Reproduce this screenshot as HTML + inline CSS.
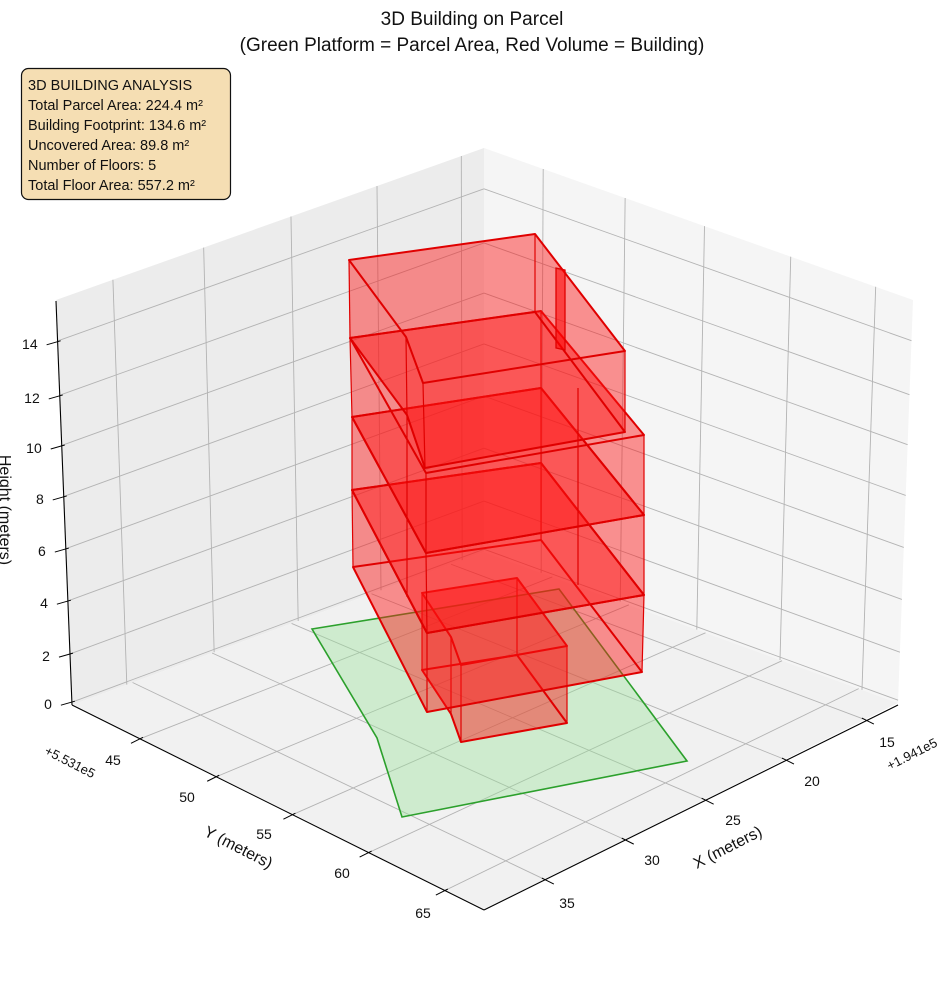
<!DOCTYPE html>
<html><head><meta charset="utf-8"><style>
html,body{margin:0;padding:0;background:#fff;}
svg{display:block;font-family:"Liberation Sans",sans-serif;}
</style></head><body>
<svg id="s" width="944" height="992" viewBox="0 0 944 992" xmlns="http://www.w3.org/2000/svg">
<g id="panes"></g><g id="grid"></g><g id="axes"></g><g id="data"></g>
<text x="472" y="25" text-anchor="middle" font-size="19" fill="#111">3D Building on Parcel</text>
<text x="472" y="51" text-anchor="middle" font-size="19" fill="#111">(Green Platform = Parcel Area, Red Volume = Building)</text>
<rect x="21.5" y="68.5" width="209" height="131" rx="7" fill="#f5deb3" stroke="#111" stroke-width="1.2"/>
<g font-size="14.5" fill="#111">
<text x="28" y="90">3D BUILDING ANALYSIS</text>
<text x="28" y="110">Total Parcel Area: 224.4 m²</text>
<text x="28" y="130">Building Footprint: 134.6 m²</text>
<text x="28" y="150">Uncovered Area: 89.8 m²</text>
<text x="28" y="170">Number of Floors: 5</text>
<text x="28" y="190">Total Floor Area: 557.2 m²</text>
</g>
<text transform="translate(0,510) rotate(90)" text-anchor="middle" font-size="16" fill="#111">Height (meters)</text>
<text transform="translate(236,852) rotate(27)" text-anchor="middle" font-size="16" fill="#111">Y (meters)</text>
<text transform="translate(730,852) rotate(-27)" text-anchor="middle" font-size="16" fill="#111">X (meters)</text>
<text transform="translate(68,766) rotate(27)" text-anchor="middle" font-size="13" fill="#111">+5.531e5</text>
<text transform="translate(914,758) rotate(-27)" text-anchor="middle" font-size="13" fill="#111">+1.941e5</text>
</svg>
<script>
const NS="http://www.w3.org/2000/svg";
function el(p,t,a){const e=document.createElementNS(NS,t);for(const k in a)e.setAttribute(k,a[k]);document.getElementById(p).appendChild(e);return e;}
function lerp(a,b,t){return [a[0]+(b[0]-a[0])*t,a[1]+(b[1]-a[1])*t];}
function pts(a){return a.map(p=>p[0].toFixed(1)+","+p[1].toFixed(1)).join(" ");}
function line(g,a,b,c,w){el(g,"line",{x1:a[0],y1:a[1],x2:b[0],y2:b[1],stroke:c,"stroke-width":w});}
const F=[484,910],L=[72,705],R=[898,703],B=[484,552],Lt=[56,300],Bt=[484,148],Rt=[913,300];
function P(u,v){return lerp(lerp(F,L,u),lerp(R,B,u),v);}
el("panes","polygon",{points:pts([L,B,Bt,Lt]),fill:"#ececec"});
el("panes","polygon",{points:pts([R,B,Bt,Rt]),fill:"#f5f5f5"});
el("panes","polygon",{points:pts([F,L,B,R]),fill:"#f1f1f1"});
const gc="#b3b3b3",gw=0.9;
const U=[0.095,0.28,0.465,0.65,0.835],V=[0.147,0.34,0.533,0.727,0.92];
const UW=[0.087,0.285,0.486,0.671,0.862],VW=[0.133,0.345,0.549,0.75,0.947];
const Fz=[0.007,0.126,0.257,0.386,0.515,0.641,0.765,0.899];
U.forEach(u=>{line("grid",P(u,0),P(u,1),gc,gw);});
UW.forEach(u=>{const b=lerp(R,B,u),t=lerp(Rt,Bt,u);line("grid",b,t,gc,gw);});
V.forEach(v=>{line("grid",P(0,v),P(1,v),gc,gw);});
VW.forEach(v=>{const b=lerp(L,B,v),t=lerp(Lt,Bt,v);line("grid",b,t,gc,gw);});
Fz.forEach(f=>{line("grid",lerp(L,Lt,f),lerp(B,Bt,f),gc,gw);line("grid",lerp(R,Rt,f),lerp(B,Bt,f),gc,gw);});
line("axes",[56,301],[72,705],"#000",1.1);
line("axes",[72,705],F,"#000",1.1);
line("axes",F,[898,705],"#000",1.1);
const zl=["0","2","4","6","8","10","12","14"];
Fz.forEach((f,i)=>{const p=lerp([72,705],[56,301],f);line("axes",[p[0]+3,p[1]-1],[p[0]-11,p[1]+3],"#000",1);
 const t=el("axes","text",{x:p[0]-20,y:p[1]+7,"text-anchor":"end","font-size":"14",fill:"#111"});t.textContent=zl[i];});
const yl=["65","60","55","50","45"],yp=[[423,913],[342,873],[264,834],[187,797],[113,760]];
U.forEach((u,i)=>{const p=P(u,0);line("axes",[p[0]+3,p[1]-1.5],[p[0]-9,p[1]+4.5],"#000",1);
 const t=el("axes","text",{x:yp[i][0],y:yp[i][1]+5,"text-anchor":"middle","font-size":"14",fill:"#111"});t.textContent=yl[i];});
const xl=["35","30","25","20","15"],xp=[[567,903],[652,860],[733,820],[812,781],[887,742]];
V.forEach((v,i)=>{const p=P(0,v);line("axes",[p[0]-3,p[1]-1.5],[p[0]+9,p[1]+4.5],"#000",1);
 const t=el("axes","text",{x:xp[i][0],y:xp[i][1]+5,"text-anchor":"middle","font-size":"14",fill:"#111"});t.textContent=xl[i];});
el("data","polygon",{points:pts([[312,629],[559,589],[687,761],[402,817],[377,738]]),fill:"rgba(150,225,150,0.38)",stroke:"#2ca02c","stroke-width":1.6});
const fill="rgba(255,20,20,0.26)",ec="#e00000";
function prism(top,bot){
 const n=top.length;
 el("data","polygon",{points:pts(bot),fill:fill});
 for(let i=0;i<n;i++){const j=(i+1)%n;el("data","polygon",{points:pts([top[i],top[j],bot[j],bot[i]]),fill:fill});}
 el("data","polygon",{points:pts(top),fill:fill});
 for(let i=0;i<n;i++)line("data",top[i],bot[i],ec,1.2);
 el("data","polygon",{points:pts(bot),fill:"none",stroke:ec,"stroke-width":2,"stroke-linejoin":"round"});
 el("data","polygon",{points:pts(top),fill:"none",stroke:ec,"stroke-width":2,"stroke-linejoin":"round"});
}
function sh(a,dy){return a.map(p=>[p[0],p[1]+dy]);}
const g=[[422,593],[517,578],[567,646],[461,665],[451,637]];
prism(g,sh(g,77));
const B567=[[353,567],[541,540],[642,672],[427,712]];
const B490=[[352,490],[541,463],[644,595],[427,633]];
const B417=[[352,417],[541,388],[644,515],[426,553]];
const B338=[[350,338],[541,311],[644,435],[426,473]];
prism(B490,B567);prism(B417,B490);prism(B338,B417);
const A260=[[349,260],[535,234],[625,351],[423,383],[406,337]];
const A338=[[350,338],[535,312],[625,432],[425,468],[407,415]];
prism(A260,A338);
line("data",[407,415],[407,597],ec,1.2);
line("data",[578,388],[578,585],ec,1.2);
el("data","polygon",{points:pts([[556,268],[565,270],[565,350],[556,348]]),fill:"rgba(255,0,0,0.55)",stroke:ec,"stroke-width":1.3});
</script>
</body></html>
